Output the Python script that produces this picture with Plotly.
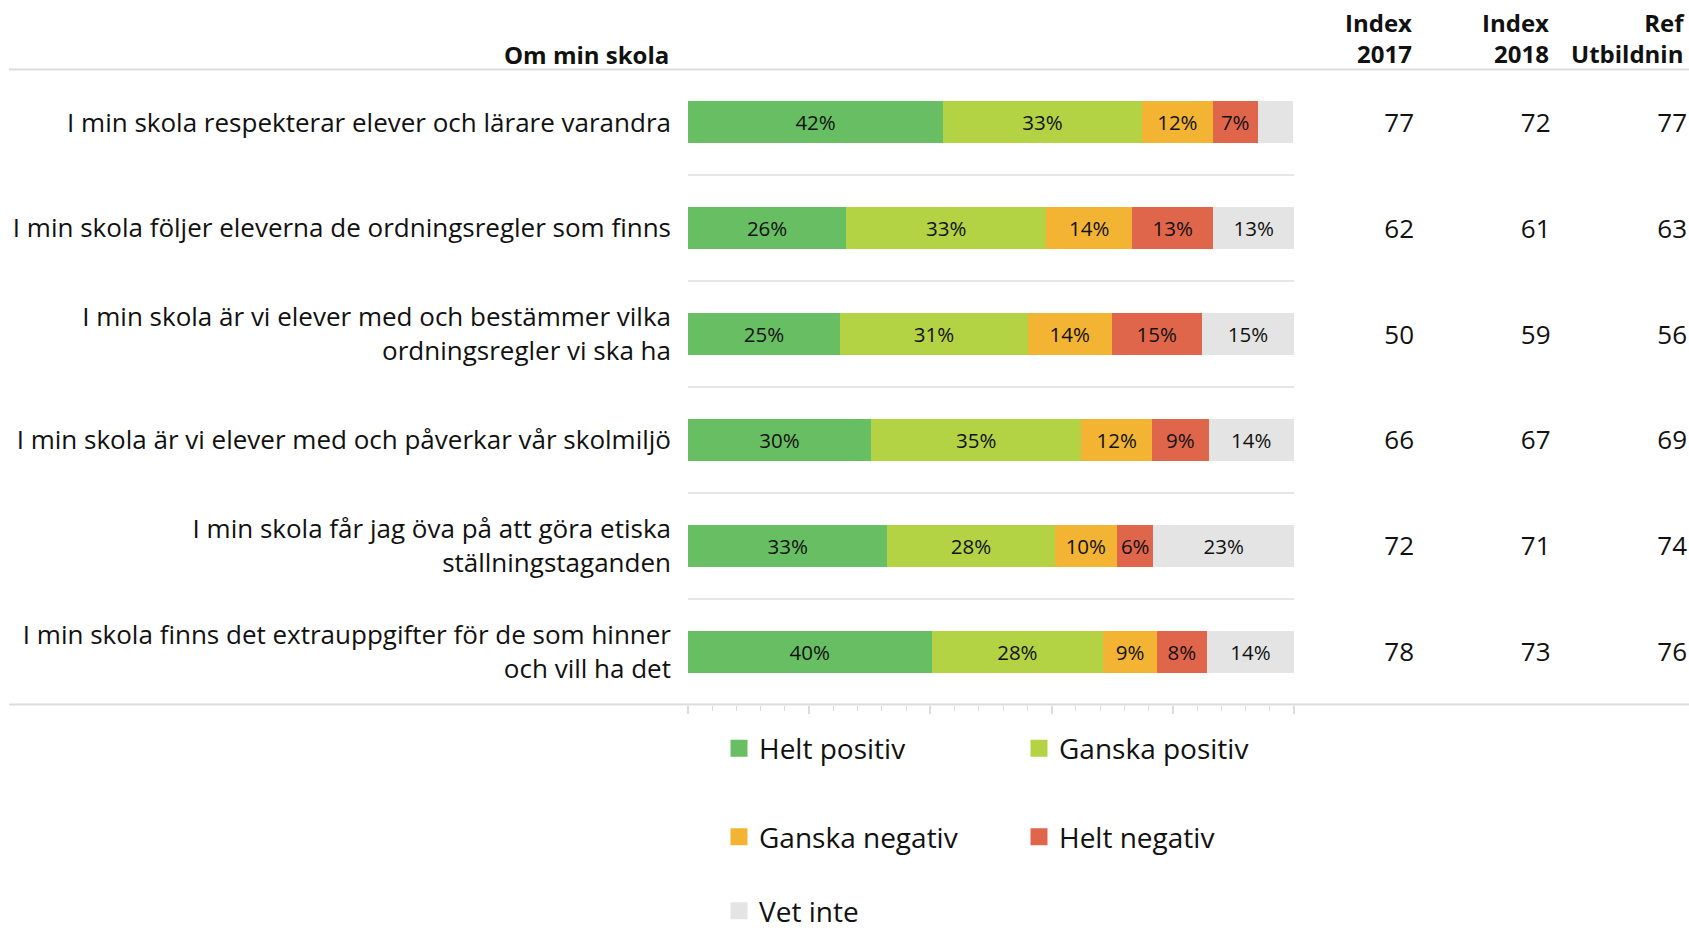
import plotly.graph_objects as go

# ---------------- data ----------------
questions = [
    "I min skola respekterar elever och lärare varandra",
    "I min skola följer eleverna de ordningsregler som finns",
    "I min skola är vi elever med och bestämmer vilka<br>ordningsregler vi ska ha",
    "I min skola är vi elever med och påverkar vår skolmiljö",
    "I min skola får jag öva på att göra etiska<br>ställningstaganden",
    "I min skola finns det extrauppgifter för de som hinner<br>och vill ha det",
]
helt_positiv = [42.1, 26.1, 25.1, 30.2, 32.9, 40.2]
ganska_positiv = [32.8, 33.0, 31.0, 34.7, 27.6, 28.3]
ganska_negativ = [11.7, 14.2, 13.8, 11.7, 10.3, 8.9]
helt_negativ = [7.4, 13.4, 14.9, 9.3, 6.0, 8.2]
vet_inte = [5.9, 13.3, 15.2, 14.1, 23.2, 14.4]
vet_inte_label_shown = [False, True, True, True, True, True]

series_names = ["Helt positiv", "Ganska positiv", "Ganska negativ", "Helt negativ", "Vet inte"]

index_2017 = [77, 62, 50, 66, 72, 78]
index_2018 = [72, 61, 59, 67, 71, 73]
ref_utbildning = [77, 63, 56, 69, 74, 76]
column_keys = ["Index 2017", "Index 2018", "Ref Utbildnin"]
column_headers = ["Index<br>2017", "Index<br>2018", "Ref<br>Utbildnin"]
section_title = "Om min skola"

# ---------------- styles / geometry ----------------
colors = ["#68BE62", "#B3D344", "#F2B432", "#E0664B", "#E4E4E4"]
legend_ids = ["legend", "legend", "legend2", "legend2", "legend3"]
FONT = "Open Sans"
TXT = "#111111"
W, H = 1689, 936
line_col = "#DCDCDC"


def fx(px):  # pixel -> paper x
    return px / W


def fy(py):  # pixel (from top) -> paper y
    return 1 - py / H


y_top, y_bot = 69.5, 704.5
x_left, x_right = 688, 1294
num_dy = 3  # small vertical nudge for the number columns

fig = go.Figure()

series_values = [helt_positiv, ganska_positiv, ganska_negativ, helt_negativ, vet_inte]
for name, vals, col in zip(series_names, series_values, colors):
    if name == "Vet inte":
        tt = ["%{x:.0f}%" if s else "" for s in vet_inte_label_shown]
    else:
        tt = "%{x:.0f}%"
    fig.add_trace(go.Bar(
        name=name, y=questions, x=vals, orientation="h",
        marker=dict(color=col, line=dict(width=0)),
        texttemplate=tt, textposition="inside", insidetextanchor="middle",
        textangle=0, constraintext="none",
        textfont=dict(family=FONT, size=20.5, color=TXT),
        showlegend=False, hoverinfo="x+y",
    ))

# legend entries (larger swatches than the default bar swatch)
for name, col, lg in zip(series_names, colors, legend_ids):
    fig.add_trace(go.Bar(
        name=name, x=[None], y=[None], orientation="h",
        marker=dict(color=col, line=dict(color=col, width=5)),
        legend=lg, showlegend=True, hoverinfo="skip",
    ))

for key, vals in zip(column_keys, [index_2017, index_2018, ref_utbildning]):
    fig.add_trace(go.Scatter(
        x=[key] * len(vals), y=questions, text=[str(v) for v in vals],
        mode="text", textposition="middle left",
        textfont=dict(family=FONT, size=26, color=TXT),
        xaxis="x2", yaxis="y2", showlegend=False, hoverinfo="skip",
        cliponaxis=False,
    ))

# numbers column axis: text right edges at x = 1412 / 1548 / 1685
x2_dom = [0.78, 1.0]
x2_unit = 136.5
dom_left = x2_dom[0] * W
c0 = 1412 + 2
x2_range = [-(c0 - dom_left) / x2_unit, (W - c0) / x2_unit]

legend_common = dict(orientation="h", xanchor="left",
                     font=dict(family=FONT, size=28, color=TXT), traceorder="normal",
                     entrywidth=255, entrywidthmode="pixels", bgcolor="rgba(0,0,0,0)")
leg_x = fx(719)

fig.update_layout(
    width=W, height=H,
    margin=dict(l=0, r=0, t=0, b=0),
    paper_bgcolor="white", plot_bgcolor="white",
    barmode="stack", bargap=0.603,
    font=dict(family=FONT, color=TXT),
    showlegend=True,
    xaxis=dict(
        domain=[fx(x_left), fx(x_right)], range=[0, 100],
        showgrid=False, zeroline=False, showline=False,
        showticklabels=False, ticks="outside", dtick=20, tick0=0,
        ticklen=8, tickwidth=1.5, tickcolor=line_col,
        minor=dict(ticks="outside", dtick=4, tick0=0, ticklen=5, tickwidth=1, tickcolor=line_col),
        anchor="y",
    ),
    yaxis=dict(
        domain=[fy(y_bot), fy(y_top)],
        type="category", categoryorder="array", categoryarray=questions,
        range=[5.5, -0.5], tickson="boundaries",
        showgrid=True, gridcolor="#E6E6E6", gridwidth=1.5,
        zeroline=False, showline=False, ticks="",
        ticklabelstandoff=16,
        tickfont=dict(family=FONT, size=26, color=TXT),
        automargin=False, anchor="x",
    ),
    xaxis2=dict(
        domain=x2_dom, type="category", categoryorder="array",
        categoryarray=column_keys, range=x2_range,
        showgrid=False, zeroline=False, showline=False, showticklabels=False,
        anchor="y2",
    ),
    yaxis2=dict(
        domain=[fy(y_bot + num_dy), fy(y_top + num_dy)],
        type="category", categoryorder="array", categoryarray=questions,
        range=[5.5, -0.5], showgrid=False, zeroline=False, showline=False,
        showticklabels=False, anchor="x2",
    ),
    legend=dict(x=leg_x, y=fy(748.5), yanchor="middle", **legend_common),
    legend2=dict(x=leg_x, y=fy(837), yanchor="middle", **legend_common),
    legend3=dict(x=leg_x, y=0, yanchor="bottom", **legend_common),
)

# header / footer rules spanning the full width
for ypx in (y_top, y_bot):
    fig.add_shape(type="line", xref="paper", yref="paper",
                  x0=fx(9), x1=1, y0=fy(ypx), y1=fy(ypx),
                  line=dict(color=line_col, width=2))

fig.add_annotation(text="<b>" + section_title + "</b>", xref="paper", yref="paper",
                   x=fx(671), y=fy(54), xanchor="right", yanchor="middle",
                   showarrow=False, font=dict(family=FONT, size=24, color=TXT))
for key, hdr in zip(column_keys, column_headers):
    fig.add_annotation(text="<b>" + hdr + "</b>", xref="x2", yref="paper",
                       x=key, y=fy(38.5), xanchor="right", yanchor="middle", align="right",
                       showarrow=False, font=dict(family=FONT, size=24, color=TXT))

fig.write_html(
    "out.html",
    config={"displayModeBar": False},
    post_script="document.body.style.margin='0';document.body.style.overflow='hidden';",
)
